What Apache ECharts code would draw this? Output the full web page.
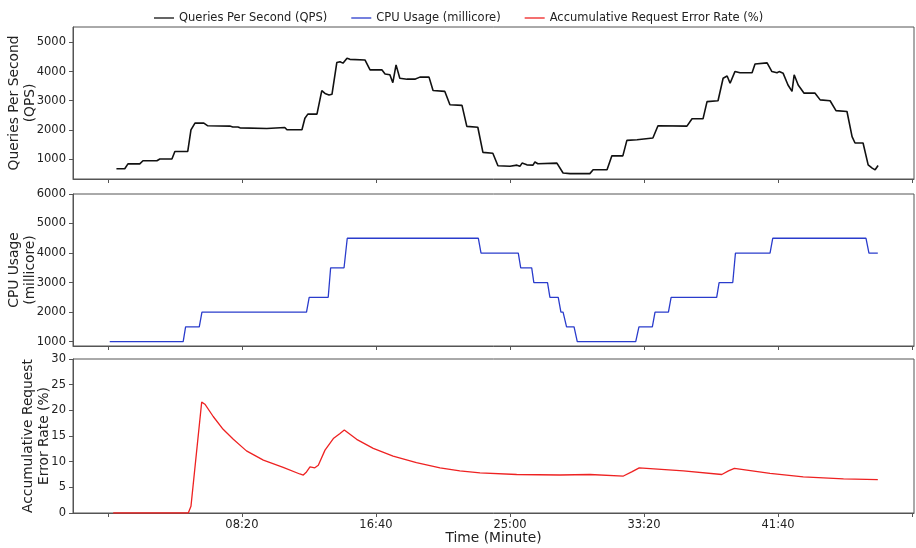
<!DOCTYPE html>
<html>
<head>
<meta charset="utf-8">
<script src="https://cdn.jsdelivr.net/npm/echarts@6/dist/echarts.min.js"></script>
<style>
html,body{margin:0;padding:0;background:#fff;}
#c{width:916px;height:548px;}
</style>
</head>
<body>
<div id="c"></div>
<script>
// ---- data (time in seconds) ----
const seriesNames = ['Queries Per Second (QPS)', 'CPU Usage (millicore)', 'Accumulative Request Error Rate (%)'];

const qpsTime  = [32,63,75,119,131,183,194,239,250,298,310,325,358,373,455,466,485,493,593,597,660,668,724,735,746,780,798,810,825,836,854,866,877,892,903,959,978,1022,1034,1052,1063,1075,1089,1116,1145,1164,1198,1213,1257,1276,1321,1339,1380,1399,1436,1455,1500,1526,1537,1545,1563,1586,1593,1604,1675,1698,1724,1798,1810,1862,1880,1921,1936,1974,2033,2052,2160,2179,2220,2235,2276,2295,2310,2321,2339,2358,2403,2414,2459,2477,2496,2504,2519,2537,2552,2560,2575,2597,2638,2657,2694,2716,2757,2776,2787,2817,2836,2851,2862,2873];
const qpsValue = [668,668,835,835,940,940,1000,1000,1260,1260,2000,2233,2233,2140,2130,2100,2100,2070,2050,2080,2080,2003,2003,2400,2540,2540,3350,3250,3200,3220,4310,4340,4290,4460,4420,4400,4060,4060,3920,3890,3620,4230,3770,3740,3740,3810,3810,3350,3320,2860,2840,2120,2090,1230,1200,770,750,790,750,860,800,790,900,840,860,520,500,500,630,630,1110,1110,1640,1660,1720,2140,2130,2380,2380,2970,3000,3770,3850,3600,4000,3960,3960,4260,4300,4000,3960,4000,3940,3540,3320,3890,3540,3260,3260,3030,3000,2660,2630,1770,1550,1550,800,690,630,780];

const cpuTime  = [7,281,290,341,351,741,751,822,831,881,893,1382,1392,1531,1540,1581,1589,1640,1649,1680,1690,1698,1711,1739,1751,1969,1981,2031,2041,2091,2101,2271,2280,2331,2341,2470,2480,2828,2839,2872];
const cpuValue = [1000,1000,1500,1500,2000,2000,2500,2500,3500,3500,4500,4500,4000,4000,3500,3500,3000,3000,2500,2500,2000,2000,1500,1500,1000,1000,1500,1500,2000,2000,2500,2500,3000,3000,4000,4000,4500,4500,4000,4000];

const errTime  = [20,300,310,350,362,393,430,468,517,580,654,716,729,741,754,772,785,810,841,866,882,928,990,1064,1151,1239,1313,1388,1525,1686,1798,1923,1954,1982,2147,2290,2315,2337,2470,2594,2744,2872];
const errValue = [0,0,1.3,21.6,21.2,18.8,16.3,14.35,12.1,10.3,8.9,7.6,7.4,8.0,9.0,8.8,9.3,12.25,14.5,15.5,16.15,14.35,12.6,11.1,9.8,8.8,8.2,7.8,7.5,7.4,7.5,7.2,8.0,8.8,8.2,7.5,8.2,8.7,7.7,7.05,6.65,6.5];

const xTicks  = [0,500,1000,1500,2000,2500,3000];
const xLabels = [500,1000,1500,2000,2500];
const qpsTicks = [1000,2000,3000,4000,5000];
const cpuTicks = [1000,2000,3000,4000,5000,6000];
const errTicks = [0,5,10,15,20,25,30];

// ---- chart ----
const FONT = 'DejaVu Sans';
const frame = '#555';
const pad = n => String(n).padStart(2,'0');
const fmtTime = v => pad(Math.floor(v/60)) + ':' + pad(Math.round(v%60));
const pairs = (t,v) => t.map((x,i)=>[x,v[i]]);

function xAxis(idx, showLabels){
  return {
    type:'value', gridIndex:idx, min:-130, max:3007,
    splitLine:{show:false},
    axisLine:{show:true, onZero:false, lineStyle:{color:frame, width:1}},
    axisTick:{show:true, length:4, lineStyle:{color:frame}, customValues:xTicks},
    axisLabel:{show:showLabels, customValues:xLabels, formatter:fmtTime, fontFamily:FONT, fontSize:11.5, color:'#222', margin:6},
    name: showLabels ? 'Time (Minute)' : '',
    nameLocation:'middle', nameGap:18, nameMoveOverlap:false,
    nameTextStyle:{fontFamily:FONT, fontSize:13.8, color:'#222'}
  };
}
function yAxis(idx, min, max, ticks, name, gap){
  return {
    type:'value', gridIndex:idx, min:min, max:max,
    splitLine:{show:false},
    axisLine:{show:true, onZero:false, lineStyle:{color:frame, width:1}},
    axisTick:{show:true, length:4, lineStyle:{color:frame}, customValues:ticks},
    axisLabel:{customValues:ticks, formatter:v => String(v), fontFamily:FONT, fontSize:11.5, color:'#222', margin:7},
    name:name, nameLocation:'middle', nameGap:gap, nameMoveOverlap:false,
    nameTextStyle:{fontFamily:FONT, fontSize:13.8, color:'#222', lineHeight:16}
  };
}
const gridBase = {left:73, right:2, show:true, borderColor:frame, borderWidth:1, containLabel:false, outerBoundsMode:'none'};

const chart = echarts.init(document.getElementById('c'), null, {renderer:'canvas'});
chart.setOption({
  animation:false,
  backgroundColor:'#fff',
  legend:{
    data:seriesNames, top:7, left:149, icon:'rect', itemWidth:20, itemHeight:1.3, itemGap:24,
    textStyle:{fontFamily:FONT, fontSize:11.5, color:'#222'}
  },
  grid:[
    Object.assign({top:27, height:152}, gridBase),
    Object.assign({top:194, height:152}, gridBase),
    Object.assign({top:359, height:154}, gridBase)
  ],
  xAxis:[xAxis(0,false), xAxis(1,false), xAxis(2,true)],
  yAxis:[
    yAxis(0, 315, 5530, qpsTicks, 'Queries Per Second\n(QPS)', 35),
    yAxis(1, 850, 6000, cpuTicks, 'CPU Usage\n(millicore)', 35),
    yAxis(2, 0, 30, errTicks, 'Accumulative Request\nError Rate (%)', 21)
  ],
  series:[
    {name:seriesNames[0], type:'line', xAxisIndex:0, yAxisIndex:0, data:pairs(qpsTime,qpsValue),
     symbol:'none', lineStyle:{color:'#111', width:1.6}, itemStyle:{color:'#111'}},
    {name:seriesNames[1], type:'line', xAxisIndex:1, yAxisIndex:1, data:pairs(cpuTime,cpuValue),
     symbol:'none', lineStyle:{color:'#2a3ccc', width:1.3}, itemStyle:{color:'#2a3ccc'}},
    {name:seriesNames[2], type:'line', xAxisIndex:2, yAxisIndex:2, data:pairs(errTime,errValue),
     symbol:'none', lineStyle:{color:'#ee2222', width:1.3}, itemStyle:{color:'#ee2222'}}
  ]
});
</script>
</body>
</html>
